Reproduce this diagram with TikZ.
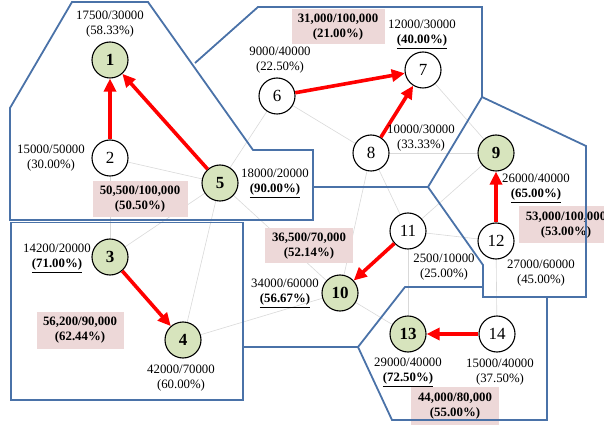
\documentclass[tikz,border=0pt]{standalone}
\usepackage{fontspec}
\setmainfont{Liberation Serif}
\usetikzlibrary{arrows.meta}
\definecolor{nodegreen}{HTML}{D7E4BD}
\definecolor{boxpink}{HTML}{EDD8D8}
\definecolor{regblue}{HTML}{4A72A8}
\definecolor{linkgray}{HTML}{D9D9D9}
\pgfdeclarelayer{bg}
\pgfdeclarelayer{boxes}
\pgfsetlayers{bg,boxes,main}
\tikzset{
  base/.style={circle, draw=black, line width=1.1pt, minimum size=36pt, inner sep=0pt},
  gnode/.style={base, fill=nodegreen, font=\fontsize{17}{17}\selectfont\bfseries},
  wnode/.style={base, fill=white, font=\fontsize{17}{17}\selectfont},
  region/.style={draw=regblue, line width=1.8pt, line join=miter},
  link/.style={draw=linkgray, line width=0.6pt},
  flow/.style={draw=red, line width=3.6pt, -{Triangle[length=13pt,width=12pt]}},
  lab/.style={font=\fontsize{12.8}{15.5}\selectfont, align=center, inner sep=0pt},
  sumbox/.style={fill=boxpink, font=\fontsize{12.8}{15.5}\selectfont\bfseries, align=center, inner sep=0pt},
}
\newcommand{\ul}[1]{\textbf{\underline{#1}}}
\begin{document}
\begin{tikzpicture}[x=1pt,y=-1pt]
\useasboundingbox (0,0) rectangle (604,427);
% nodes
\node[gnode] (n1) at (110,60) {1};
\node[wnode] (n2) at (110,158) {2};
\node[gnode] (n3) at (110,257) {3};
\node[gnode] (n4) at (183,340) {4};
\node[gnode] (n5) at (220,183) {5};
\node[wnode] (n6) at (277,96) {6};
\node[wnode] (n7) at (423,70) {7};
\node[wnode] (n8) at (371,153) {8};
\node[gnode] (n9) at (496,153) {9};
\node[gnode] (n10) at (340,293) {10};
\node[wnode] (n11) at (408,231) {11};
\node[wnode] (n12) at (496,241) {12};
\node[gnode] (n13) at (408,334) {13};
\node[wnode] (n14) at (497,334) {14};
% light links
\begin{pgfonlayer}{bg}
\draw[link] (n2) -- (n5);
\draw[link] (n5) -- (n6);
\draw[link] (n6) -- (n8);
\draw[link] (n7) -- (n9);
\draw[link] (n8) -- (n9);
\draw[link] (n8) -- (n10);
\draw[link] (n8) -- (n11);
\draw[link] (n9) -- (n11);
\draw[link] (n11) -- (n12);
\draw[link] (n11) -- (n13);
\draw[link] (n12) -- (n14);
\draw[link] (n10) -- (n13);
\draw[link] (n4) -- (n10);
\draw[link] (n4) -- (n5);
\draw[link] (n3) -- (n5);
\draw[link] (n2) -- (n3);
\draw[link] (n5) -- (n10);
\end{pgfonlayer}
% summary boxes
\begin{pgfonlayer}{boxes}
\node[sumbox, minimum width=95pt, minimum height=36pt] (b1) at (140,199) {50,500/100,000\\(50.50\%)};
\node[sumbox, minimum width=93pt, minimum height=35pt] (b2) at (338,27) {31,000/100,000\\(21.00\%)};
\node[sumbox, minimum width=94pt, minimum height=37pt] (b3) at (566,225) {53,000/100,000\\(53.00\%)};
\node[sumbox, minimum width=87pt, minimum height=37pt] (b4) at (80,330) {56,200/90,000\\(62.44\%)};
\node[sumbox, minimum width=88pt, minimum height=35pt] (b5) at (309,246) {36,500/70,000\\(52.14\%)};
\node[sumbox, minimum width=88pt, minimum height=38pt] (b6) at (455,406) {44,000/80,000\\(55.00\%)};
\end{pgfonlayer}
% regions
\draw[region] (72,2) -- (148,2) -- (253,150) -- (313,150) -- (313,220) -- (10,220) -- (10,108) -- cycle;
\draw[region] (195,63) -- (258,7) -- (482,7) -- (482,97) -- (428,187) -- (313,187);
\draw[region] (482,97) -- (586,146) -- (586,297) -- (483,297) -- (483,265) -- (428,187);
\draw[region] (11,222.5) rectangle (243,400);
\draw[region] (243,222) -- (243,347) -- (358,347);
\draw[region] (483,287) -- (405,287) -- (358,347) -- (392,420) -- (547,420) -- (547,297);
% flows
\draw[flow] (n2) -- (n1);
\draw[flow] (n5) -- (n1);
\draw[flow] (n6) -- (n7);
\draw[flow] (n8) -- (n7);
\draw[flow] (n3) -- (n4);
\draw[flow] (n11) -- (n10);
\draw[flow] (n12) -- (n9);
\draw[flow] (n14) -- (n13);
% labels
\node[lab] (l1) at (110,24) {17500/30000\\(58.33\%)};
\node[lab] (l2) at (51,158) {15000/50000\\(30.00\%)};
\node[lab] (l5) at (275,183) {18000/20000\\\ul{(90.00\%)}};
\node[lab] (l6) at (280,60) {9000/40000\\(22.50\%)};
\node[lab] (l7) at (422,34) {12000/30000\\\ul{(40.00\%)}};
\node[lab] (l8) at (421,138) {10000/30000\\(33.33\%)};
\node[lab] (l9) at (536,188) {26000/40000\\\ul{(65.00\%)}};
\node[lab] (l3) at (57,258) {14200/20000\\\ul{(71.00\%)}};
\node[lab] (l4) at (181,378) {42000/70000\\(60.00\%)};
\node[lab] (l10) at (285,293) {34000/60000\\\ul{(56.67\%)}};
\node[lab] (l11) at (444,267) {2500/10000\\(25.00\%)};
\node[lab] (l12) at (541,273) {27000/60000\\(45.00\%)};
\node[lab] (l13) at (408,372) {29000/40000\\\ul{(72.50\%)}};
\node[lab] (l14) at (500,372) {15000/40000\\(37.50\%)};
\end{tikzpicture}
\end{document}
